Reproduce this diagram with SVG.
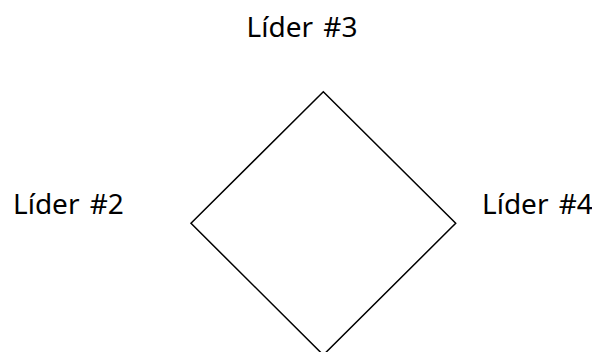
<svg xmlns="http://www.w3.org/2000/svg" width="592" height="352" viewBox="0 0 592 352">
<style>
.lbl{font-family:"Noto Sans","DejaVu Sans",sans-serif;font-size:28px;fill:#000;word-spacing:3px}
.shape{fill:#fff;stroke:#000;stroke-width:1.5}
</style>
<rect width="592" height="352" fill="#fff"/>
<g id="diamond"><polygon class="shape" points="323.3,91.7 455.7,223.3 323.3,355 191,223.3"/></g>
<g id="lider3"><text class="lbl" x="302" y="36.7" text-anchor="middle">Líder #3</text></g>
<g id="lider2"><text class="lbl" x="13" y="214.3">Líder #2</text></g>
<g id="lider4"><text class="lbl" x="482" y="214.3">Líder #4</text></g>
<g id="connectors"/>
</svg>
